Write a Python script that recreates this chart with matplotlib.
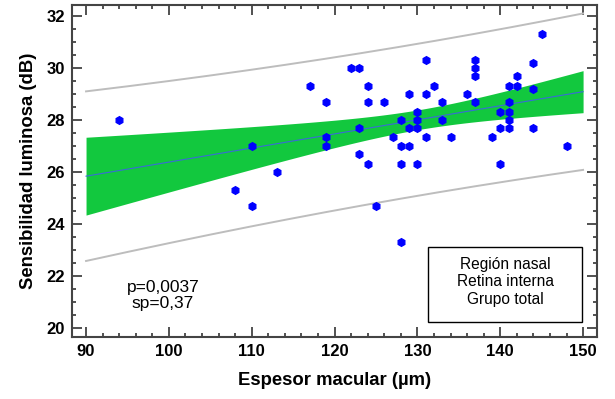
import numpy as np
import matplotlib
matplotlib.use("Agg")
import matplotlib.pyplot as plt
from matplotlib.ticker import MultipleLocator
from matplotlib.patches import Rectangle

plt.rcParams['font.family'] = ['Liberation Sans', 'DejaVu Sans']

# espesor macular (um) vs sensibilidad luminosa (dB)
espesor = [94, 108, 110, 110, 113, 117, 119, 119, 119, 122, 123, 123, 123,
           124, 124, 124, 125, 126, 127, 128, 128, 128, 128, 129, 129, 129,
           130, 130, 130, 130, 131, 131, 131, 132, 133, 133, 134, 136, 137,
           137, 137, 137, 139, 140, 140, 140, 141, 141, 141, 141, 141, 142,
           142, 144, 144, 144, 145, 148]
sensib = [28.0, 25.3, 27.0, 24.7, 26.0, 29.3, 28.7, 27.35, 27.0, 30.0, 30.0,
          27.7, 26.7, 29.3, 28.7, 26.3, 24.7, 28.7, 27.35, 28.0, 27.0, 26.3,
          23.3, 29.0, 27.7, 27.0, 28.3, 28.0, 27.7, 26.3, 30.3, 29.0, 27.35,
          29.3, 28.7, 28.0, 27.35, 29.0, 30.3, 30.0, 29.7, 28.7, 27.35, 28.3,
          27.7, 26.3, 29.3, 28.7, 28.3, 28.0, 27.7, 29.7, 29.3, 30.2, 29.2,
          27.7, 31.3, 27.0]
info_lines = ["Región nasal", "Retina interna", "Grupo total"]
stats_text = "p=0,0037\nsp=0,37"

x = np.array(espesor, dtype=float)
y = np.array(sensib)
n = len(x)

# least squares fit with 95% confidence and prediction bands
slope, inter = np.polyfit(x, y, 1)
resid = y - (inter + slope * x)
s = np.sqrt(np.sum(resid**2) / (n - 2))
sxx = np.sum((x - x.mean())**2)
t = 2.003

xs = np.linspace(90, 150, 200)
yfit = inter + slope * xs
ci = t * s * np.sqrt(1.0/n + (xs - x.mean())**2 / sxx)
pi = t * s * np.sqrt(1 + 1.0/n + (xs - x.mean())**2 / sxx)

fig = plt.figure(figsize=(6.15, 3.99), dpi=100)
ax = fig.add_axes([0.117, 0.155, 0.854, 0.832])

ax.fill_between(xs, yfit - ci, yfit + ci, color='#12C83E', lw=0, zorder=2)
ax.plot(xs, yfit - pi, color='#bdbdbd', lw=1.4, zorder=2)
ax.plot(xs, yfit + pi, color='#bdbdbd', lw=1.4, zorder=2)
ax.plot(xs, yfit, color='#3a6ad8', lw=0.8, zorder=3)
ax.plot(x, y, 'h', color='#0000ff', ms=5.5, mec='#0000ff', zorder=4)

ax.set_xlim(88.3, 151.7)
ax.set_ylim(19.65, 32.42)
ax.xaxis.set_major_locator(MultipleLocator(10))
ax.xaxis.set_minor_locator(MultipleLocator(2))
ax.yaxis.set_major_locator(MultipleLocator(2))
ax.yaxis.set_minor_locator(MultipleLocator(0.5))
ax.tick_params(which='both', direction='in', top=True, right=True,
               color='#333333', width=1.2)
ax.tick_params(which='major', length=7, labelsize=12, pad=5)
ax.tick_params(which='minor', length=3)
for lab in ax.get_xticklabels() + ax.get_yticklabels():
    lab.set_fontweight('bold')
for sp in ax.spines.values():
    sp.set_color('#444444')
    sp.set_linewidth(1.5)

ax.set_xlabel('Espesor macular (µm)', fontsize=13.3, fontweight='bold', labelpad=9)
ax.set_ylabel('Sensibilidad luminosa (dB)', fontsize=13.3, fontweight='bold', labelpad=7)

ax.text(99.3, 21.25, stats_text, ha='center', va='center', fontsize=12.5,
        linespacing=1.15)

# legend-like info box
ax.add_patch(Rectangle((131.3, 20.23), 18.6, 2.87, fc='white', ec='black',
                       lw=1, zorder=5))
ax.text(140.6, 21.78, "\n".join(info_lines), ha='center', va='center',
        fontsize=11.2, linespacing=1.2, zorder=6)

fig.savefig('out.png', dpi=100)
